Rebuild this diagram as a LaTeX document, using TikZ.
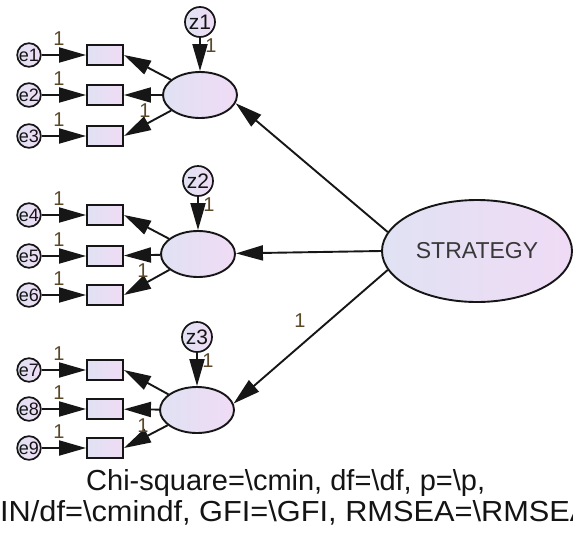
\documentclass[tikz,border=0pt]{standalone}
\usepackage{fontspec}
\setmainfont{Liberation Sans}
\usetikzlibrary{arrows.meta,shapes.geometric}

\definecolor{fillL}{RGB}{224,226,243}
\definecolor{fillR}{RGB}{240,219,245}
\definecolor{edgecol}{RGB}{22,22,22}
\definecolor{onecol}{RGB}{90,72,40}
\definecolor{txtcol}{RGB}{20,20,20}

\tikzset{
  shade lr/.style={left color=fillL, right color=fillR},
  obs/.style={rectangle, draw=edgecol, line width=1.9pt, shade lr,
    minimum width=36pt, minimum height=20pt, inner sep=0pt},
  latent/.style={ellipse, draw=edgecol, line width=1.9pt, shade lr,
    minimum width=74pt, minimum height=46pt, inner sep=0pt},
  err/.style={circle, draw=edgecol, line width=1.7pt, shade lr,
    minimum size=22pt, inner sep=0pt, text=txtcol,
    font=\fontsize{18}{18}\selectfont},
  dist/.style={circle, draw=edgecol, line width=1.7pt, shade lr,
    minimum size=30pt, inner sep=0pt, text=txtcol,
    font=\fontsize{21}{21}\selectfont},
  regpath/.style={-{Triangle[length=27pt,width=15pt]}, line width=1.9pt,
    draw=edgecol},
  onelbl/.style={inner sep=0pt, text=onecol,
    font=\fontsize{20}{20}\selectfont},
  fitline/.style={anchor=base west, inner sep=0pt, text=txtcol,
    font=\fontsize{29}{29}\selectfont}
}

\begin{document}
\begin{tikzpicture}[x=1pt, y=-1pt]
  \clip (0,0) rectangle (573,544);
  \fill[white] (0,0) rectangle (573,544);

  % first-order factor 1 with indicators 1-3
  \node[latent] (f1) at (200,95) {};
  \node[dist] (z1) at (200,22) {z1};
  \node[err] (e1) at (29,55) {e1};
  \node[err] (e2) at (29,95) {e2};
  \node[err] (e3) at (29,136) {e3};
  \node[obs] (o1) at (105,55) {};
  \node[obs] (o2) at (105,95) {};
  \node[obs] (o3) at (105,136) {};

  % first-order factor 2 with indicators 4-6
  \node[latent] (f2) at (198,254) {};
  \node[dist] (z2) at (198,181) {z2};
  \node[err] (e4) at (29,215) {e4};
  \node[err] (e5) at (29,256) {e5};
  \node[err] (e6) at (29,295) {e6};
  \node[obs] (o4) at (105,215) {};
  \node[obs] (o5) at (105,256) {};
  \node[obs] (o6) at (105,295) {};

  % first-order factor 3 with indicators 7-9
  \node[latent] (f3) at (197,410) {};
  \node[dist] (z3) at (197,337) {z3};
  \node[err] (e7) at (29,370) {e7};
  \node[err] (e8) at (29,409) {e8};
  \node[err] (e9) at (29,448) {e9};
  \node[obs] (o7) at (105,370) {};
  \node[obs] (o8) at (105,409) {};
  \node[obs] (o9) at (105,448) {};

  % second-order factor
  \node[latent, minimum width=190pt, minimum height=102pt, text=black!78,
    font=\fontsize{23}{23}\selectfont] (S) at (477,251) {STRATEGY};

  % error terms to indicators
  \foreach \i in {1,...,9} {
    \draw[regpath] (e\i) -- (o\i);
  }

  % factors to indicators and disturbances to factors
  \foreach \f/\a/\b/\c in {1/1/2/3, 2/4/5/6, 3/7/8/9} {
    \draw[regpath] (f\f) -- (o\a.east);
    \draw[regpath] (f\f) -- (o\b);
    \draw[regpath] (f\f) -- (o\c.east);
    \draw[regpath] (z\f) -- (f\f);
  }

  % second-order loadings
  \draw[regpath] (S.168) -- (f1.-13);
  \draw[regpath] (S.west) -- (f2);
  \draw[regpath] (S.192) -- (f3.10);

  % fixed parameters
  \foreach \y in {55,95,136,215,256,295,370,409,448} {
    \node[onelbl] at (59,\y-16) {1};
  }
  \node[onelbl] at (211,46) {1};
  \node[onelbl] at (209,205) {1};
  \node[onelbl] at (208,361) {1};
  \node[onelbl] at (145,111) {1};
  \node[onelbl] at (143,271) {1};
  \node[onelbl] at (143,426) {1};
  \node[onelbl] at (300,321) {1};

  % model fit summary
  \node[fitline] (fit1) at (86,490)
    {Chi-square=\textbackslash cmin, df=\textbackslash df, p=\textbackslash p,};
  \node[fitline] (fit2) at (0,521)
    {\scalebox{1.06}[1]{\llap{CM}IN/df=\textbackslash cmindf, GFI=\textbackslash GFI, RMSEA=\textbackslash RMSEA}};
\end{tikzpicture}
\end{document}
